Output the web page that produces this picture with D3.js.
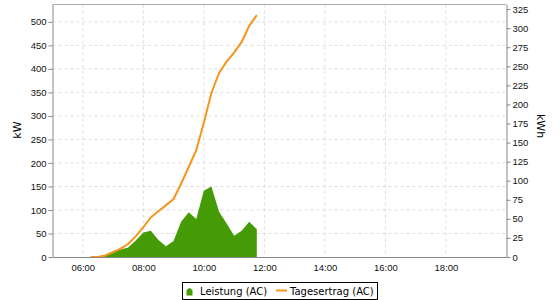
<!DOCTYPE html>
<html>
<head>
<meta charset="utf-8">
<script src="https://cdn.jsdelivr.net/npm/d3@7"></script>
<style>
  body { margin: 0; background: #fff; }
  svg { font-family: "DejaVu Sans", sans-serif; }
  .grid line { stroke: #ddd; stroke-dasharray: 3,3; }
  .axis path, .axis line { stroke: #888; }
  .axis text { fill: #111; font-size: 9.5px; }
</style>
</head>
<body>
<div id="chart"></div>
<script>
const width = 560;
const height = 300;

// readings every 15 min
const times = ["06:15","06:30","06:45","07:00","07:15","07:30","07:45","08:00","08:15","08:30","08:45",
  "09:00","09:15","09:30","09:45","10:00","10:15","10:30","10:45","11:00","11:15","11:30","11:45"];
const leistung = [0, 0, 5, 13, 16, 20, 35, 52, 56, 36, 23, 34, 75, 95, 81, 141, 150, 97, 72, 45, 56, 75, 59];
const tagesertrag = [0, 0, 2, 6, 11, 17, 27, 39, 52, 60, 68, 76, 96, 118, 140, 176, 215, 241, 256, 268, 282, 303, 317];

const xTicks = ["06:00","08:00","10:00","12:00","14:00","16:00","18:00"];
const kwTicks = [0,50,100,150,200,250,300,350,400,450,500];
const kwhTicks = [0,25,50,75,100,125,150,175,200,225,250,275,300,325];

const parse = d3.timeParse("%H:%M");
const fmt = d3.timeFormat("%H:%M");

const pLeft = 52.5, pRight = 506.5, pTop = 4.5, pBottom = 257;

const svg = d3.select("#chart").append("svg")
  .attr("width", width)
  .attr("height", height);

const x = d3.scaleTime().domain([parse("05:00"), parse("20:00")]).range([pLeft, pRight]);
const yL = d3.scaleLinear().domain([0, 537]).range([pBottom, pTop]);
const yR = d3.scaleLinear().domain([0, 331]).range([pBottom, pTop]);

const data = times.map((t, i) => ({ t: parse(t), p: leistung[i], e: tagesertrag[i] }));

// grid
const grid = svg.append("g").attr("class", "grid");
grid.selectAll(".h").data(kwTicks.filter(d => d > 0)).enter().append("line")
  .attr("x1", pLeft).attr("x2", pRight)
  .attr("y1", d => yL(d)).attr("y2", d => yL(d));
grid.selectAll(".v").data(xTicks.map(parse)).enter().append("line")
  .attr("x1", d => x(d)).attr("x2", d => x(d))
  .attr("y1", pTop).attr("y2", pBottom);

// top border
svg.append("line")
  .attr("x1", pLeft).attr("x2", pRight).attr("y1", pTop).attr("y2", pTop)
  .style("stroke", "#aaa");

// Leistung area
svg.append("path")
  .datum(data)
  .attr("d", d3.area().x(d => x(d.t)).y0(yL(0)).y1(d => yL(d.p)))
  .style("fill", "#449b05");

// Tagesertrag line
svg.append("path")
  .datum(data)
  .attr("d", d3.line().x(d => x(d.t)).y(d => yR(d.e)))
  .style("fill", "none")
  .style("stroke", "#f7941e")
  .style("stroke-width", 2);

// axes
svg.append("g").attr("class", "axis")
  .attr("transform", "translate(" + pLeft + ",0)")
  .call(d3.axisLeft(yL).tickValues(kwTicks).tickSize(4).tickSizeOuter(0).tickPadding(2));

svg.append("g").attr("class", "axis")
  .attr("transform", "translate(" + pRight + ",0)")
  .call(d3.axisRight(yR).tickValues(kwhTicks).tickSize(4).tickSizeOuter(0).tickPadding(2));

svg.append("g").attr("class", "axis")
  .attr("transform", "translate(0," + pBottom + ")")
  .call(d3.axisBottom(x).tickValues(xTicks.map(parse)).tickFormat(fmt).tickSize(0).tickSizeOuter(0).tickPadding(7));

// axis titles
svg.append("text")
  .attr("transform", "translate(21,130) rotate(-90)")
  .style("text-anchor", "middle")
  .style("font-size", "11px")
  .text("kW");

svg.append("text")
  .attr("transform", "translate(537,126) rotate(90)")
  .style("text-anchor", "middle")
  .style("font-size", "11px")
  .text("kWh");

// legend
const legend = svg.append("g").attr("transform", "translate(182.5,282.5)");
legend.append("rect")
  .attr("width", 195).attr("height", 17)
  .style("fill", "#fff").style("stroke", "#000");
legend.append("path")
  .attr("d", "M4,13 L4,8 Q7,3 10,8 L10,13 Z")
  .style("fill", "#449b05");
legend.append("text")
  .attr("x", 17.5).attr("y", 12.5)
  .style("font-size", "10px")
  .text("Leistung (AC)");
legend.append("line")
  .attr("x1", 93.5).attr("x2", 104.5).attr("y1", 8).attr("y2", 8)
  .style("stroke", "#f7941e").style("stroke-width", 2);
legend.append("text")
  .attr("x", 107.5).attr("y", 12.5)
  .style("font-size", "10px")
  .text("Tagesertrag (AC)");
</script>
</body>
</html>
